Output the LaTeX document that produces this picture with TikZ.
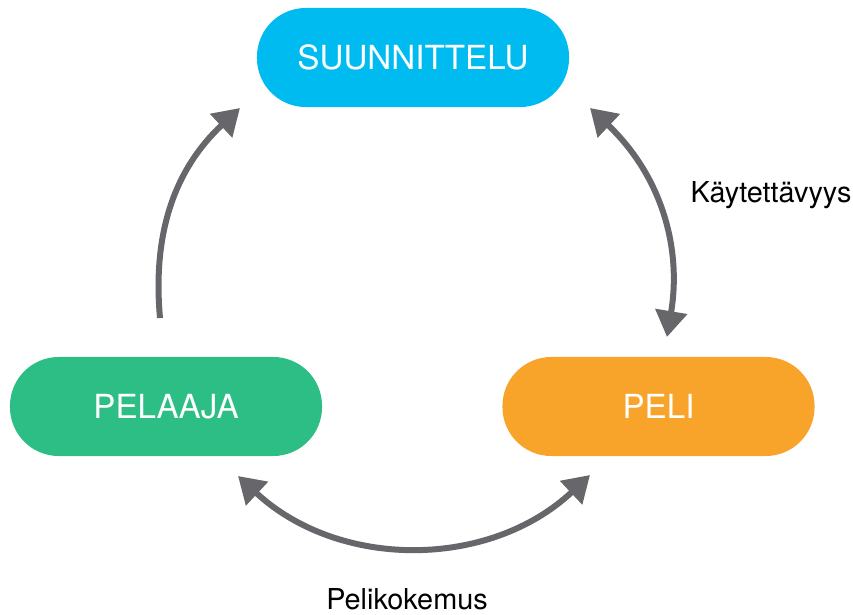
\documentclass[tikz,border=0pt]{standalone}
\usepackage{fontspec}
\setmainfont{TeX Gyre Heros}
\usetikzlibrary{positioning,arrows.meta}
\definecolor{suunblue}{RGB}{0,187,239}
\definecolor{pelgreen}{RGB}{45,190,134}
\definecolor{peliorange}{RGB}{248,163,42}
\definecolor{arrowgray}{RGB}{103,102,107}
\tikzset{
	pill/.style={rectangle,rounded corners=1.22cm,minimum width=7.8cm,minimum height=2.475cm,text=white,font=\fontsize{23.6}{28}\selectfont},
	cycleedge/.style={-{Triangle[length=0.65cm,width=0.78cm]},color=arrowgray,line width=0.15cm},
	twowayedge/.style={{Triangle[length=0.65cm,width=0.78cm]}-{Triangle[length=0.65cm,width=0.78cm]},color=arrowgray,line width=0.15cm},
	edgelabel/.style={anchor=base,font=\fontsize{20.5}{24}\selectfont}
}
\begin{document}
\begin{tikzpicture}[x=0.025cm,y=0.025cm]
		\useasboundingbox (0,0) rectangle (853,614);
		%%%phases
		\node[pill,fill=suunblue] (suun) at (413,556.5) {SUUNNITTELU};
		\node[pill,fill=pelgreen] (pelaaja) at (166,207.5) {PELAAJA};
		\node[pill,fill=peliorange] (peli) at (658.5,207.5) {PELI};
		
		%%%arrow ends
		\coordinate (pelaajaout) at (160,296);
		\coordinate (suunin) at (240,506);
		\coordinate (suunout) at (590,506);
		\coordinate (peliin) at (667,277);
		\coordinate (pelaajabot) at (238,138);
		\coordinate (pelibot) at (590,139);
		
		\draw[cycleedge] (pelaajaout) to [bend left=26] (suunin);
		\draw[twowayedge] (suunout) to [bend left=28] (peliin);
		\draw[twowayedge] (pelaajabot) to [bend right=43] (pelibot);
		
		\node[edgelabel] (kaytto) at (771,412) {Käytettävyys};
		\node[edgelabel] (kokemus) at (407,5) {Pelikokemus};
	\end{tikzpicture}
\end{document}
